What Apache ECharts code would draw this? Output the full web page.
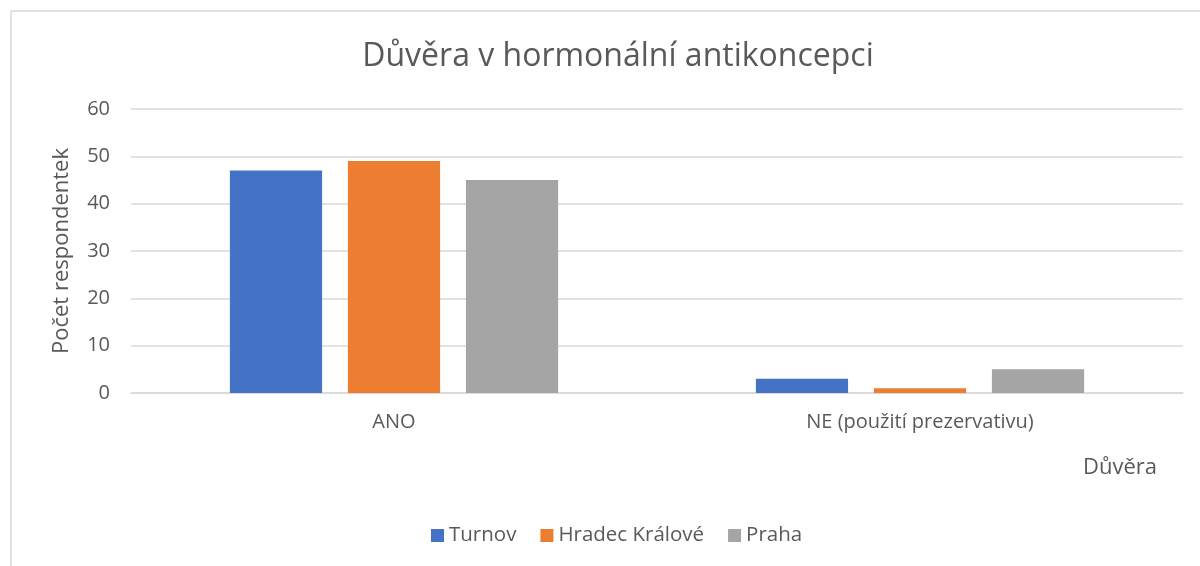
<!DOCTYPE html>
<html><head><meta charset="utf-8">
<script src="https://cdn.jsdelivr.net/npm/echarts@6/dist/echarts.min.js"></script>
<style>html,body{margin:0;padding:0;background:#fff}#c{width:1200px;height:566px}</style>
</head><body><div id="c"></div>
<script>
const categories = ['ANO', 'NE (použití prezervativu)'];
const seriesNames = ['Turnov', 'Hradec Králové', 'Praha'];
const turnov = [47, 3];
const hradec = [49, 1];
const praha = [45, 5];
const colors = ['#4472C4', '#ED7D31', '#A5A5A5'];
const font = 'Open Sans';
const chart = echarts.init(document.getElementById('c'));
const data = [turnov, hradec, praha];
chart.setOption({
  animation: false,
  color: colors,
  title: {text: 'Důvěra v hormonální antikoncepci', left: 613, top: 36, textAlign: 'center',
    textStyle: {fontFamily: font, fontSize: 32, fontWeight: 'normal', color: '#595959'}},
  grid: {left: 131, right: 17, top: 109, bottom: 173, containLabel: false},
  graphic: [
    {type: 'rect', shape: {x: 11, y: 11, width: 1300, height: 700}, style: {fill: 'none', stroke: '#d9d9d9', lineWidth: 1.5}},
    {type: 'text', left: 1083, top: 457, style: {text: 'Důvěra', font: '22px "Open Sans"', fill: '#595959'}}
  ],
  legend: {left: 426, top: 520, itemWidth: 13, itemHeight: 13, itemGap: 24, icon: 'rect',
    textStyle: {fontFamily: font, fontSize: 20.5, color: '#595959'}},
  xAxis: {type: 'category', data: categories,
    axisLine: {lineStyle: {color: '#d9d9d9', width: 1.5}}, axisTick: {show: false},
    axisLabel: {fontFamily: font, fontSize: 20, color: '#595959', margin: 19}},
  yAxis: {type: 'value', min: 0, max: 60, interval: 10,
    name: 'Počet respondentek', nameLocation: 'middle', nameGap: 58,
    nameTextStyle: {fontFamily: font, fontSize: 22, color: '#595959'},
    axisLine: {show: false}, axisTick: {show: false},
    splitLine: {lineStyle: {color: '#d9d9d9', width: 1.5}},
    axisLabel: {fontFamily: font, fontSize: 20, color: '#595959', margin: 21}},
  series: seriesNames.map((n, i) => ({name: n, type: 'bar', data: data[i],
    barGap: '28%', barCategoryGap: '37.6%'}))
});
</script></body></html>
